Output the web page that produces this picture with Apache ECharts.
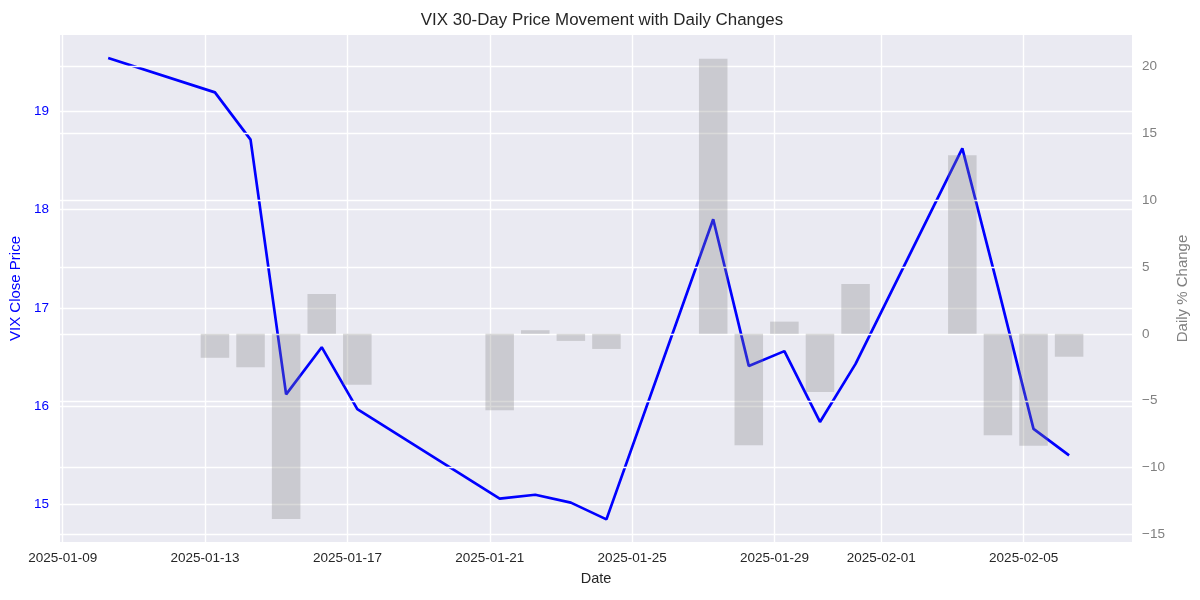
<!DOCTYPE html>
<html>
<head>
<meta charset="utf-8">
<script src="https://cdn.jsdelivr.net/npm/echarts@6/dist/echarts.min.js"></script>
<style>
html,body{margin:0;padding:0;background:#fff;}
#chart{width:1200px;height:600px;}
</style>
</head>
<body>
<div id="chart"></div>
<script>
// ---- data ----
const dates = ['2025-01-10','2025-01-13','2025-01-14','2025-01-15','2025-01-16','2025-01-17',
  '2025-01-21','2025-01-22','2025-01-23','2025-01-24','2025-01-27','2025-01-28','2025-01-29',
  '2025-01-30','2025-01-31','2025-02-03','2025-02-04','2025-02-05','2025-02-06'];
const vixClose = [19.54,19.19,18.71,16.12,16.60,15.97,15.06,15.10,15.02,14.85,17.90,16.41,16.56,
  15.84,16.43,18.62,17.21,15.77,15.50];
const changeDates = dates.slice(1);
const pctChange = [-1.79,-2.50,-13.84,2.98,-3.80,-5.70,0.27,-0.53,-1.13,20.54,-8.32,0.91,-4.35,
  3.72,13.33,-7.57,-8.37,-1.71];
const xTicks = ['2025-01-09','2025-01-13','2025-01-17','2025-01-21','2025-01-25','2025-01-29','2025-02-01','2025-02-05'];
const leftTicks = [15,16,17,18,19];
const rightTicks = [-15,-10,-5,0,5,10,15,20];
const sampleTime = '06:40';

function ts(d, t){ const p=d.split('-').map(Number); const h=t?t.split(':').map(Number):[0,0];
  return new Date(p[0],p[1]-1,p[2],h[0],h[1]).getTime(); }
function fmtDate(v){ const d=new Date(v); const pad=n=>(n<10?'0':'')+n;
  return d.getFullYear()+'-'+pad(d.getMonth()+1)+'-'+pad(d.getDate()); }
const DAY = 864e5;
const x0 = ts('2025-01-09');

const lineData = dates.map((d,i)=>[ts(d,sampleTime), vixClose[i]]);
const barData = changeDates.map((d,i)=>[ts(d,sampleTime), pctChange[i]]);
const fmtMinus = v => (v<0 ? '\u2212'+Math.abs(v) : String(v));
const FONT = '"Liberation Sans", Arial, sans-serif';
const xTickVals = xTicks.map(d=>ts(d));
const GRIDLINE = {show:true, lineStyle:{color:'#ffffff', width:1.4}};

const chart = echarts.init(document.getElementById('chart'), null, {renderer:'canvas'});
chart.setOption({
  animation:false,
  backgroundColor:'#ffffff',
  textStyle:{fontFamily:FONT},
  title:{text:'VIX 30-Day Price Movement with Daily Changes', left:597, textAlign:'center', top:7,
    textStyle:{fontFamily:FONT, fontSize:16.9, fontWeight:'normal', color:'#262626'}},
  grid:{left:60, right:68, top:35, bottom:58, show:true, backgroundColor:'#EAEAF2', borderWidth:0},
  xAxis:{
    type:'value', min:x0-0.076*DAY, max:x0+30.045*DAY,
    name:'Date', nameLocation:'middle', nameGap:29,
    nameTextStyle:{fontFamily:FONT, fontSize:14.5, color:'#262626'},
    axisLine:{show:false}, axisTick:{show:false, customValues:xTickVals},
    axisLabel:{customValues:xTickVals, margin:9, fontFamily:FONT, fontSize:13.5, color:'#262626',
      hideOverlap:false, showMinLabel:true, showMaxLabel:true, formatter:v=>fmtDate(v)},
    splitLine:GRIDLINE
  },
  yAxis:[{
    type:'value', min:14.62, max:19.773, position:'left',
    name:'VIX Close Price', nameLocation:'middle', nameGap:33,
    nameTextStyle:{fontFamily:FONT, fontSize:15, color:'#0000FF'},
    axisLine:{show:false}, axisTick:{show:false, customValues:leftTicks},
    axisLabel:{customValues:leftTicks, margin:11, fontFamily:FONT, fontSize:13.5, color:'#0000FF'},
    splitLine:GRIDLINE
  },{
    type:'value', min:-15.55, max:22.32, position:'right', z:3,
    name:'Daily % Change', nameLocation:'middle', nameGap:36,
    nameTextStyle:{fontFamily:FONT, fontSize:15, color:'#808080'},
    axisLine:{show:false}, axisTick:{show:false, customValues:rightTicks},
    axisLabel:{customValues:rightTicks, margin:10, fontFamily:FONT, fontSize:13.5, color:'#808080', formatter:fmtMinus},
    splitLine:GRIDLINE
  }],
  series:[{
    type:'line', yAxisIndex:0, data:lineData, showSymbol:false, z:2,
    lineStyle:{color:'#0000FF', width:2.7}, itemStyle:{color:'#0000FF'}
  },{
    type:'bar', yAxisIndex:1, data:barData, barWidth:28.5, z:4,
    itemStyle:{color:'rgba(128,128,128,0.3)'}
  }]
});
</script>
</body>
</html>
